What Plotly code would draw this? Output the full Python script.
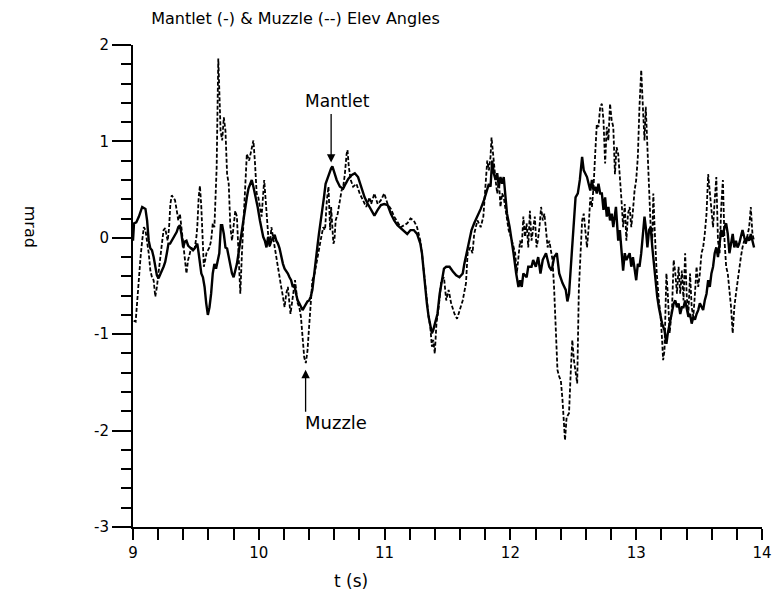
import plotly.graph_objects as go

# Mantlet elevation angle (solid), mrad vs time (s)
MANTLET_T = [
    9.000, 9.008, 9.026, 9.047, 9.073, 9.099, 9.112, 9.125, 9.138, 9.151, 9.164, 9.177, 9.190, 9.203,
    9.216, 9.230, 9.243, 9.256, 9.269, 9.282, 9.295, 9.308, 9.321, 9.334, 9.347, 9.360, 9.373, 9.386,
    9.399, 9.412, 9.425, 9.438, 9.451, 9.464, 9.477, 9.490, 9.504, 9.511, 9.522, 9.532, 9.543, 9.556,
    9.569, 9.582, 9.595, 9.608, 9.621, 9.634, 9.647, 9.660, 9.673, 9.686, 9.699,
    9.709, 9.722, 9.735, 9.748, 9.761, 9.774, 9.787, 9.800, 9.813, 9.826, 9.839, 9.853, 9.866, 9.886,
    9.905, 9.918, 9.931, 9.944, 9.957, 9.970, 9.991, 10.009, 10.022, 10.035, 10.048, 10.061, 10.074,
    10.087, 10.100, 10.113, 10.126, 10.139, 10.152, 10.165, 10.178, 10.192, 10.205, 10.218, 10.231,
    10.244, 10.257, 10.270, 10.283, 10.296, 10.309, 10.322, 10.335, 10.348, 10.361, 10.374, 10.387,
    10.400, 10.413, 10.426, 10.439, 10.452, 10.465, 10.478, 10.491, 10.504, 10.518, 10.531,
    10.554, 10.575, 10.585, 10.601, 10.619, 10.645, 10.671, 10.690, 10.711, 10.737, 10.763, 10.789,
    10.815, 10.841, 10.867, 10.893, 10.919, 10.945, 10.971, 10.997, 11.024, 11.050, 11.076, 11.102,
    11.128, 11.154, 11.180, 11.206, 11.232, 11.258, 11.284, 11.297, 11.310, 11.323, 11.336, 11.350,
    11.363, 11.376,
    11.386, 11.399, 11.420, 11.438, 11.456, 11.472, 11.490, 11.516, 11.543, 11.569, 11.595, 11.621,
    11.634, 11.655, 11.673, 11.691, 11.712, 11.738, 11.764, 11.790, 11.811, 11.829, 11.842, 11.855,
    11.868, 11.882, 11.895, 11.908, 11.921, 11.934, 11.947, 11.960, 11.973, 11.994, 12.012, 12.025,
    12.046, 12.064, 12.077, 12.090, 12.103, 12.129, 12.142, 12.168, 12.181, 12.202, 12.221,
    12.239, 12.257, 12.283, 12.309, 12.328, 12.348, 12.369, 12.388, 12.414, 12.440, 12.453, 12.466,
    12.479, 12.492, 12.505, 12.518, 12.536, 12.552, 12.570, 12.583, 12.609, 12.622, 12.635, 12.648,
    12.661, 12.674, 12.687, 12.700, 12.714, 12.727, 12.740, 12.753, 12.766, 12.779, 12.792, 12.805,
    12.818, 12.839, 12.857, 12.870, 12.883, 12.896, 12.909, 12.922, 12.948, 12.961, 12.974, 12.987,
    13.000, 13.013, 13.026, 13.040, 13.053, 13.066,
    13.076, 13.089, 13.102, 13.115, 13.128, 13.141, 13.154, 13.167, 13.180, 13.193, 13.206, 13.225,
    13.240, 13.251, 13.266, 13.285, 13.298, 13.311, 13.324, 13.337, 13.350, 13.363, 13.376, 13.389,
    13.402, 13.415, 13.428, 13.441, 13.454, 13.467, 13.480, 13.493, 13.506, 13.519, 13.532, 13.545,
    13.559, 13.572, 13.585, 13.598, 13.611, 13.624, 13.637, 13.650, 13.663, 13.676, 13.689, 13.702,
    13.715, 13.728, 13.741, 13.754, 13.767, 13.780, 13.793, 13.806, 13.819, 13.832, 13.845, 13.858,
    13.871, 13.884, 13.898, 13.911, 13.924, 13.937,
]
MANTLET_V = [
    -0.03, 0.15, 0.16, 0.22, 0.32, 0.30, 0.18, -0.03, -0.11, -0.13, -0.20, -0.30, -0.39, -0.42,
    -0.37, -0.34, -0.30, -0.25, -0.16, -0.06, -0.06, -0.03, 0.01, 0.04, 0.06, 0.11, 0.13, 0.03,
    -0.10, -0.04, -0.03, -0.08, -0.10, -0.11, -0.13, -0.11, -0.08, -0.06, -0.16, -0.30, -0.37, -0.41,
    -0.51, -0.68, -0.80, -0.72, -0.58, -0.37, -0.27, -0.32, -0.23, -0.16, 0.13,
    0.13, 0.04, -0.10, -0.11, -0.20, -0.30, -0.37, -0.41, -0.34, -0.27, -0.16, -0.03, 0.08, 0.25,
    0.42, 0.51, 0.56, 0.60, 0.53, 0.46, 0.32, 0.18, 0.08, 0.01, -0.03, -0.10, 0.01,
    -0.08, -0.03, 0.01, 0.03, -0.03, -0.06, -0.11, -0.20, -0.27, -0.32, -0.34, -0.37,
    -0.41, -0.44, -0.51, -0.49, -0.58, -0.65, -0.68, -0.72, -0.75, -0.72, -0.68, -0.66,
    -0.65, -0.61, -0.54, -0.37, -0.23, -0.10, 0.04, 0.15, 0.29, 0.42, 0.56,
    0.65, 0.72, 0.74, 0.68, 0.60, 0.53, 0.51, 0.56, 0.61, 0.65, 0.67, 0.63,
    0.53, 0.42, 0.35, 0.29, 0.23, 0.29, 0.34, 0.35, 0.34, 0.25, 0.18, 0.13,
    0.10, 0.06, 0.04, 0.08, 0.08, 0.04, -0.06, -0.16, -0.34, -0.54, -0.68, -0.82,
    -0.89, -0.99,
    -0.96, -0.89, -0.79, -0.58, -0.44, -0.32, -0.30, -0.30, -0.35, -0.39, -0.41, -0.37,
    -0.27, -0.13, -0.03, 0.08, 0.15, 0.22, 0.30, 0.39, 0.49, 0.56, 0.53, 0.80,
    0.67, 0.60, 0.67, 0.53, 0.63, 0.56, 0.63, 0.42, 0.25, 0.11, -0.03, -0.16,
    -0.37, -0.51, -0.44, -0.51, -0.37, -0.41, -0.30, -0.30, -0.23, -0.30, -0.20,
    -0.37, -0.23, -0.16, -0.30, -0.34, -0.20, -0.16, -0.37, -0.47, -0.54, -0.66, -0.58,
    -0.34, -0.16, 0.11, 0.42, 0.46, 0.60, 0.84, 0.70, 0.63, 0.56, 0.49, 0.60,
    0.49, 0.53, 0.46, 0.56, 0.46, 0.46, 0.29, 0.42, 0.22, 0.32, 0.18, 0.25,
    0.11, 0.32, -0.03, 0.08, -0.13, -0.34, -0.16, -0.23, -0.16, -0.30, -0.20, -0.34,
    -0.44, -0.27, -0.30, -0.16, 0.08, 0.22,
    0.11, -0.10, 0.08, 0.11, -0.10, -0.30, -0.44, -0.61, -0.72, -0.82, -0.89, -0.96,
    -1.10, -0.99, -0.89, -0.79, -0.68, -0.65, -0.72, -0.68, -0.79, -0.72, -0.72, -0.65,
    -0.72, -0.82, -0.79, -0.89, -0.82, -0.85, -0.79, -0.75, -0.68, -0.72, -0.75, -0.65,
    -0.58, -0.44, -0.51, -0.37, -0.30, -0.16, -0.10, -0.20, -0.03, 0.08, 0.01, 0.11,
    0.15, 0.04, -0.16, -0.06, 0.04, -0.10, -0.03, -0.10, -0.06, 0.01, 0.08, 0.01,
    -0.06, 0.01, -0.03, 0.04, -0.03, -0.10,
]

# Muzzle elevation angle (dashed), mrad vs time (s)
MUZZLE_T = [
    9.005, 9.021, 9.034, 9.047, 9.060, 9.073, 9.086, 9.099, 9.112, 9.125, 9.138, 9.151, 9.164, 9.177,
    9.190, 9.203, 9.216, 9.230, 9.243, 9.256, 9.269, 9.276, 9.287, 9.297, 9.308, 9.321, 9.334, 9.347,
    9.360, 9.373, 9.386, 9.399, 9.412, 9.425, 9.438, 9.451, 9.464, 9.477, 9.490, 9.504, 9.511, 9.522,
    9.532, 9.543, 9.553, 9.563, 9.574, 9.584, 9.595, 9.608, 9.621, 9.634, 9.647, 9.657, 9.665, 9.670,
    9.678, 9.686, 9.696,
    9.709, 9.722, 9.735, 9.748, 9.761, 9.774, 9.787, 9.800, 9.813, 9.826, 9.839, 9.853, 9.866, 9.886,
    9.905, 9.923, 9.944, 9.957, 9.970, 9.983, 9.996, 10.009, 10.022, 10.043, 10.061, 10.074, 10.087,
    10.100, 10.113, 10.126, 10.139, 10.152, 10.165, 10.178, 10.192, 10.205, 10.218, 10.231, 10.252,
    10.270, 10.288, 10.309, 10.322, 10.335, 10.348, 10.361, 10.374, 10.387, 10.400, 10.413, 10.426,
    10.444, 10.465, 10.491, 10.512, 10.523,
    10.528, 10.541, 10.554, 10.559, 10.567, 10.575, 10.585, 10.593, 10.601, 10.611, 10.627, 10.645,
    10.658, 10.671, 10.684, 10.698, 10.705, 10.716, 10.731, 10.750, 10.776, 10.802, 10.828, 10.854,
    10.880, 10.893, 10.919, 10.945, 10.971, 10.997, 11.024, 11.050, 11.076, 11.102, 11.128, 11.154,
    11.180, 11.206, 11.232, 11.258, 11.284, 11.297, 11.310, 11.323, 11.336, 11.350, 11.363, 11.376,
    11.386, 11.399, 11.412, 11.430, 11.451, 11.472, 11.490, 11.509, 11.529, 11.556, 11.576, 11.595,
    11.621, 11.647, 11.660, 11.681, 11.699, 11.712, 11.738, 11.764, 11.785, 11.803, 11.816, 11.829,
    11.842, 11.850, 11.863, 11.882, 11.895, 11.908, 11.921, 11.934, 11.947, 11.968, 11.986, 12.004,
    12.025, 12.038, 12.051, 12.064, 12.077, 12.090, 12.103, 12.116, 12.129, 12.142, 12.155, 12.168,
    12.181, 12.194, 12.208,
    12.218, 12.231, 12.244, 12.257, 12.270, 12.283, 12.296, 12.309, 12.322, 12.335, 12.348, 12.361,
    12.374, 12.388, 12.401, 12.414, 12.427, 12.434, 12.447, 12.466, 12.479, 12.492, 12.505, 12.518,
    12.531, 12.544, 12.557, 12.570, 12.583, 12.596, 12.609, 12.622, 12.635, 12.648, 12.661, 12.674,
    12.687, 12.700, 12.714, 12.727, 12.740, 12.753, 12.766, 12.779, 12.792, 12.805, 12.818, 12.831,
    12.844, 12.857, 12.870, 12.883, 12.896, 12.909, 12.922, 12.935, 12.948, 12.961, 12.974, 12.987,
    13.000, 13.013, 13.026, 13.040, 13.053, 13.066,
    13.076, 13.089, 13.102, 13.115, 13.128, 13.136, 13.146, 13.162, 13.180, 13.193, 13.206, 13.214,
    13.225, 13.240, 13.251, 13.266, 13.285, 13.298, 13.311, 13.324, 13.337, 13.350, 13.363, 13.376,
    13.389, 13.402, 13.415, 13.428, 13.441, 13.454, 13.467, 13.480, 13.493, 13.506, 13.519, 13.532,
    13.545, 13.559, 13.572, 13.585, 13.598, 13.611, 13.624, 13.637, 13.650, 13.663, 13.676, 13.689,
    13.702, 13.715, 13.728, 13.741, 13.754, 13.767, 13.780, 13.793, 13.806, 13.819, 13.832, 13.845,
    13.858, 13.871, 13.884, 13.898, 13.911, 13.924, 13.937,
]
MUZZLE_V = [
    -0.86, -0.87, -0.65, -0.37, -0.20, -0.03, 0.11, 0.08, -0.03, -0.16, -0.34, -0.41, -0.44, -0.61,
    -0.51, -0.34, -0.20, -0.06, 0.08, 0.10, 0.01, -0.03, 0.11, 0.35, 0.44, 0.42, 0.39, 0.29,
    0.18, 0.25, 0.08, -0.06, -0.20, -0.37, -0.23, -0.16, -0.10, -0.13, -0.11, 0.01, 0.11, 0.42,
    0.54, 0.32, -0.10, -0.30, -0.23, -0.16, -0.13, -0.10, -0.03, 0.15, 0.11, 0.39, 0.73, 1.18,
    1.86, 1.53, 1.11,
    1.01, 1.25, 1.11, 0.66, 0.56, 0.11, -0.03, 0.11, 0.28, 0.22, -0.20, -0.58, -0.16, 0.39,
    0.87, 0.80, 0.94, 1.01, 0.77, 0.46, 0.42, 0.32, 0.22, 0.60, 0.22, 0.04, -0.10,
    0.11, 0.01, -0.10, -0.20, -0.34, -0.44, -0.51, -0.61, -0.72, -0.58, -0.51, -0.79,
    -0.58, -0.44, -0.68, -0.72, -0.82, -1.06, -1.24, -1.30, -1.17, -0.92, -0.65, -0.44,
    -0.37, -0.20, -0.03, 0.11, 0.08,
    0.11, 0.39, 0.53, 0.35, 0.08, 0.32, 0.11, -0.06, -0.03, 0.18, 0.25, 0.39,
    0.49, 0.53, 0.66, 0.87, 0.91, 0.73, 0.60, 0.53, 0.56, 0.46, 0.39, 0.32,
    0.42, 0.35, 0.46, 0.35, 0.39, 0.46, 0.35, 0.30, 0.22, 0.16, 0.11, 0.13,
    0.15, 0.20, 0.18, 0.11, -0.03, -0.16, -0.34, -0.51, -0.68, -0.82, -0.92, -1.13,
    -1.06, -1.20, -0.89, -0.72, -0.44, -0.41, -0.65, -0.54, -0.68, -0.79, -0.84, -0.75,
    -0.65, -0.47, -0.16, -0.10, -0.16, 0.04, 0.18, 0.11, 0.22, 0.56, 0.80, 0.70,
    0.84, 1.04, 0.84, 0.60, 0.46, 0.60, 0.32, 0.46, 0.42, 0.25, 0.08, 0.01,
    -0.10, -0.16, -0.37, -0.20, -0.03, -0.10, 0.22, 0.01, 0.15, -0.10, 0.28, -0.03,
    0.11, 0.22, -0.10,
    -0.03, 0.11, 0.32, 0.18, 0.25, 0.08, -0.10, -0.03, -0.16, -0.23, -0.54, -0.99,
    -1.37, -1.44, -1.48, -1.68, -1.93, -2.10, -1.86, -1.82, -1.41, -1.06, -1.27, -1.41,
    -1.51, -0.54, -0.20, 0.18, 0.25, 0.04, -0.10, 0.11, 0.42, 0.32, 0.53, 0.87,
    1.18, 1.15, 1.36, 1.39, 1.22, 0.77, 1.15, 1.01, 1.39, 1.22, 1.15, 0.66,
    0.94, 0.87, 0.56, 0.39, 0.11, 0.35, -0.03, 0.25, 0.32, 0.11, 0.28, 0.49,
    0.60, 0.84, 1.36, 1.74, 1.36, 1.01,
    1.36, 0.91, 0.49, 0.11, -0.03, 0.46, 0.11, -0.34, -0.65, -0.79, -1.06, -1.27,
    -1.17, -0.37, -0.58, -0.99, -0.72, -0.23, -0.37, -0.58, -0.30, -0.58, -0.34, -0.65,
    -0.16, -0.61, -0.79, -0.37, -0.72, -0.82, -0.58, -0.30, -0.51, -0.37, -0.16, -0.10,
    0.04, 0.25, 0.66, 0.49, 0.32, 0.11, 0.39, 0.63, -0.03, -0.16, 0.32, 0.60,
    -0.03, -0.30, -0.37, -0.54, -0.72, -0.99, -0.72, -0.58, -0.44, -0.30, -0.20, -0.10,
    -0.03, -0.06, 0.04, 0.11, 0.32, 0.04, -0.03,
]

Y_TICKS = [-3, -2, -1, 0, 1, 2]
Y_TICK_LABELS = ["-3", "-2", "-1", "0", "1", "2"]
X_TICKS = [9, 10, 11, 12, 13, 14]
X_TICK_LABELS = ["9", "10", "11", "12", "13", "14"]

FONT = "DejaVu Sans"
INK = "black"

fig = go.Figure()
fig.add_trace(go.Scatter(x=MANTLET_T, y=MANTLET_V, mode="lines",
                         line=dict(color=INK, width=2.4), name="Mantlet"))
fig.add_trace(go.Scatter(x=MUZZLE_T, y=MUZZLE_V, mode="lines",
                         line=dict(color=INK, width=1.8, dash="4px,2px"), name="Muzzle"))

# Callout arrows and their labels
fig.add_annotation(x=10.575, y=0.78, ax=10.575, ay=1.30, axref="x", ayref="y",
                   text="", showarrow=True, arrowhead=2, arrowsize=1.3, arrowwidth=1.3,
                   arrowcolor=INK)
fig.add_annotation(x=10.348, y=1.42, text="Mantlet", showarrow=False, xanchor="left",
                   yanchor="middle", font=dict(family=FONT, size=17, color=INK))
fig.add_annotation(x=10.372, y=-1.37, ax=10.372, ay=-1.82, axref="x", ayref="y",
                   text="", showarrow=True, arrowhead=2, arrowsize=1.3, arrowwidth=1.3,
                   arrowcolor=INK)
fig.add_annotation(x=10.348, y=-1.92, text="Muzzle", showarrow=False, xanchor="left",
                   yanchor="middle", font=dict(family=FONT, size=18, color=INK))

# Axis titles
fig.add_annotation(xref="paper", yref="paper", x=0.347, y=-0.137, text="t (s)",
                   showarrow=False, font=dict(family=FONT, size=17, color=INK))
fig.add_annotation(xref="paper", yref="paper", x=-0.18, y=0.67, text="mrad", textangle=90,
                   showarrow=False, font=dict(family=FONT, size=16, color=INK))

fig.update_layout(
    width=775, height=610,
    margin=dict(l=133, r=3, t=45, b=83),
    paper_bgcolor="white", plot_bgcolor="white",
    showlegend=False,
    font=dict(family=FONT, size=15, color=INK),
    title=dict(text="Mantlet (-) &amp; Muzzle (--) Elev Angles", xref="container", yref="container",
               x=0.195, xanchor="left", y=0.97, yanchor="middle",
               font=dict(family=FONT, size=16, color=INK)),
)
fig.update_xaxes(
    range=[9, 14], showgrid=False, zeroline=False,
    showline=True, linecolor=INK, linewidth=2,
    tickmode="array", tickvals=X_TICKS, ticktext=X_TICK_LABELS,
    ticks="outside", ticklen=11, tickwidth=1.5, tickcolor=INK,
    minor=dict(tick0=9, dtick=0.2, ticks="outside", ticklen=11, tickwidth=1.5, tickcolor=INK),
    tickfont=dict(family=FONT, size=15, color=INK),
    ticklabeloverflow="allow",
)
fig.update_yaxes(
    range=[-3, 2], showgrid=False, zeroline=False,
    showline=True, linecolor=INK, linewidth=2,
    tickmode="array", tickvals=Y_TICKS, ticktext=Y_TICK_LABELS,
    ticks="outside", ticklen=19, tickwidth=2, tickcolor=INK,
    minor=dict(tick0=0, dtick=0.2, ticks="outside", ticklen=10, tickwidth=1.5, tickcolor=INK),
    tickfont=dict(family=FONT, size=15, color=INK),
)

fig.write_html("out.html")
